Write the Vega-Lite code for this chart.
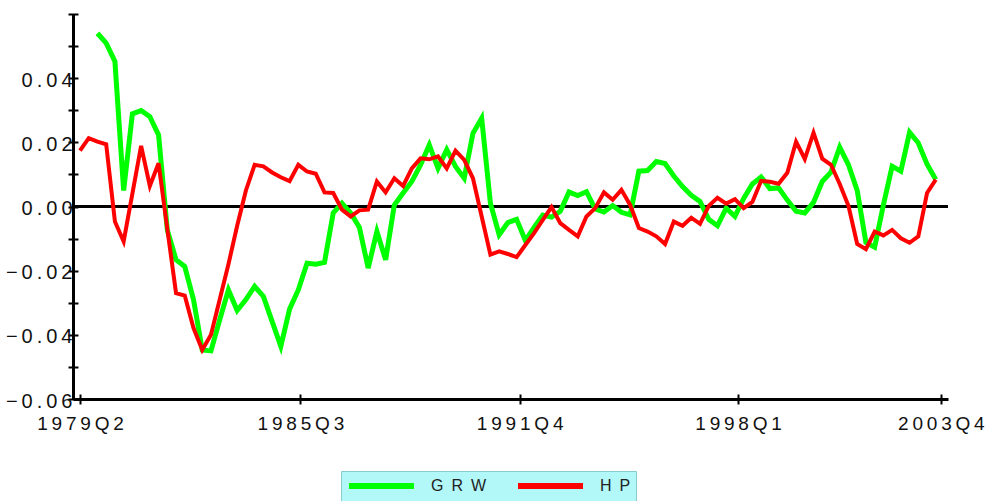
{
  "$schema": "https://vega.github.io/schema/vega-lite/v6.json",
  "autosize": {"type": "none"},
  "padding": {"left": 73, "top": 14, "right": 51, "bottom": 102},
  "width": 875,
  "height": 385,
  "background": "white",
  "config": {"view": {"stroke": null}, "font": "Liberation Sans"},
  "data": {"values": [
    {"q":0,"HP":0.0174},{"q":1,"HP":0.0213},{"q":2,"GRW":0.054,"HP":0.0202},{"q":3,"GRW":0.0509,"HP":0.0194},
    {"q":4,"GRW":0.0452,"HP":-0.0047},{"q":5,"GRW":0.005,"HP":-0.0109},{"q":6,"GRW":0.0289,"HP":0.004},{"q":7,"GRW":0.0299,"HP":0.0189},
    {"q":8,"GRW":0.028,"HP":0.0064},{"q":9,"GRW":0.0223,"HP":0.0135},{"q":10,"GRW":-0.0073,"HP":-0.007},{"q":11,"GRW":-0.0166,"HP":-0.027},
    {"q":12,"GRW":-0.0187,"HP":-0.0278},{"q":13,"GRW":-0.029,"HP":-0.0379},{"q":14,"GRW":-0.0447,"HP":-0.0447},{"q":15,"GRW":-0.045,"HP":-0.04},
    {"q":16,"GRW":-0.0353,"HP":-0.029},{"q":17,"GRW":-0.026,"HP":-0.018},{"q":18,"GRW":-0.0324,"HP":-0.006},{"q":19,"GRW":-0.029,"HP":0.005},
    {"q":20,"GRW":-0.0249,"HP":0.013},{"q":21,"GRW":-0.028,"HP":0.0125},{"q":22,"GRW":-0.0358,"HP":0.0106},{"q":23,"GRW":-0.0436,"HP":0.0091},
    {"q":24,"GRW":-0.032,"HP":0.0079},{"q":25,"GRW":-0.026,"HP":0.013},{"q":26,"GRW":-0.0177,"HP":0.0109},{"q":27,"GRW":-0.018,"HP":0.0102},
    {"q":28,"GRW":-0.0174,"HP":0.0044},{"q":29,"GRW":-0.002,"HP":0.0042},{"q":30,"GRW":0.001,"HP":-0.001},{"q":31,"GRW":-0.002,"HP":-0.0031},
    {"q":32,"GRW":-0.0065,"HP":-0.0012},{"q":33,"GRW":-0.0192,"HP":-0.001},{"q":34,"GRW":-0.0078,"HP":0.0078},{"q":35,"GRW":-0.0166,"HP":0.0044},
    {"q":36,"GRW":0.0005,"HP":0.0088},{"q":37,"GRW":0.0042,"HP":0.0064},{"q":38,"GRW":0.0078,"HP":0.0119},{"q":39,"GRW":0.013,"HP":0.015},
    {"q":40,"GRW":0.0192,"HP":0.0147},{"q":41,"GRW":0.0119,"HP":0.0156},{"q":42,"GRW":0.0177,"HP":0.0119},{"q":43,"GRW":0.0125,"HP":0.0174},
    {"q":44,"GRW":0.0088,"HP":0.0145},{"q":45,"GRW":0.0228,"HP":0.0088},{"q":46,"GRW":0.0275,"HP":-0.0031},{"q":47,"GRW":0.001,"HP":-0.015},
    {"q":48,"GRW":-0.0088,"HP":-0.014},{"q":49,"GRW":-0.005,"HP":-0.0148},{"q":50,"GRW":-0.004,"HP":-0.0158},{"q":51,"GRW":-0.0106,"HP":-0.012},
    {"q":52,"GRW":-0.0065,"HP":-0.0083},{"q":53,"GRW":-0.0027,"HP":-0.0042},{"q":54,"GRW":-0.0033,"HP":-0.0002},{"q":55,"GRW":-0.0015,"HP":-0.0052},
    {"q":56,"GRW":0.0045,"HP":-0.0073},{"q":57,"GRW":0.0034,"HP":-0.0093},{"q":58,"GRW":0.0046,"HP":-0.0031},{"q":59,"GRW":-0.0008,"HP":-0.0005},
    {"q":60,"GRW":-0.0017,"HP":0.0044},{"q":61,"GRW":0.0003,"HP":0.0021},{"q":62,"GRW":-0.0018,"HP":0.0052},{"q":63,"GRW":-0.0026,"HP":0.0005},
    {"q":64,"GRW":0.011,"HP":-0.0067},{"q":65,"GRW":0.0112,"HP":-0.0078},{"q":66,"GRW":0.014,"HP":-0.0093},{"q":67,"GRW":0.0134,"HP":-0.0117},
    {"q":68,"GRW":0.0095,"HP":-0.0047},{"q":69,"GRW":0.0062,"HP":-0.006},{"q":70,"GRW":0.0035,"HP":-0.0035},{"q":71,"GRW":0.0016,"HP":-0.0054},
    {"q":72,"GRW":-0.004,"HP":0.0002},{"q":73,"GRW":-0.006,"HP":0.0027},{"q":74,"GRW":-0.0005,"HP":0.0009},{"q":75,"GRW":-0.0031,"HP":0.0023},
    {"q":76,"GRW":0.0025,"HP":-0.0005},{"q":77,"GRW":0.007,"HP":0.0014},{"q":78,"GRW":0.0092,"HP":0.008},{"q":79,"GRW":0.0056,"HP":0.0077},
    {"q":80,"GRW":0.0058,"HP":0.0071},{"q":81,"GRW":0.002,"HP":0.0105},{"q":82,"GRW":-0.0015,"HP":0.0202},{"q":83,"GRW":-0.002,"HP":0.0148},
    {"q":84,"GRW":0.0013,"HP":0.023},{"q":85,"GRW":0.0078,"HP":0.0149},{"q":86,"GRW":0.0107,"HP":0.013},{"q":87,"GRW":0.0185,"HP":0.007},
    {"q":88,"GRW":0.013,"HP":0.0002},{"q":89,"GRW":0.005,"HP":-0.0117},{"q":90,"GRW":-0.0112,"HP":-0.0133},{"q":91,"GRW":-0.0127,"HP":-0.0078},
    {"q":92,"GRW":0.0005,"HP":-0.009},{"q":93,"GRW":0.0125,"HP":-0.0073},{"q":94,"GRW":0.011,"HP":-0.0099},{"q":95,"GRW":0.0231,"HP":-0.0113},
    {"q":96,"GRW":0.0198,"HP":-0.0093},{"q":97,"GRW":0.0132,"HP":0.0042},{"q":98,"GRW":0.0084,"HP":0.0084}
  ]},
  "resolve": {"axis": {"x": "independent", "y": "independent"}},
  "layer": [
    {
      "mark": {"type": "rule", "color": "black", "strokeWidth": 3},
      "encoding": {
        "y": {"datum": 0, "type": "quantitative",
          "scale": {"domain": [-0.06, 0.06], "nice": false, "zero": false},
          "axis": {"orient": "left", "offset": -5, "domain": false, "labels": false, "grid": false, "title": null,
            "values": [-0.06,-0.05,-0.04,-0.03,-0.02,-0.01,0,0.01,0.02,0.03,0.04,0.05,0.06],
            "ticks": true, "tickSize": 10, "tickWidth": 2, "tickColor": "black"}},
        "x": {"datum": -0.8, "type": "quantitative",
          "scale": {"domain": [-0.8, 99.4], "nice": false, "zero": false},
          "axis": {"orient": "bottom", "offset": -5, "domain": false, "labels": false, "grid": false, "title": null,
            "values": [0, 25.24, 50.35, 75.36, 98.58],
            "ticks": true, "tickSize": 10, "tickWidth": 2, "tickColor": "black"}},
        "x2": {"datum": 99.4}
      }
    },
    {
      "mark": {"type": "line", "strokeWidth": 5},
      "encoding": {
        "x": {"field": "q", "type": "quantitative",
          "scale": {"domain": [-0.8, 99.4], "nice": false, "zero": false},
          "axis": {"orient": "bottom", "title": null, "grid": false, "ticks": false,
            "domain": true, "domainColor": "black", "domainWidth": 3,
            "values": [0, 25.24, 50.35, 75.36, 98.58],
            "labelFont": "Liberation Sans", "labelFontSize": 19, "labelColor": "#111",
            "labelPadding": 15, "labelFlush": false, "labelOverlap": false,
            "labelExpr": "datum.value < 10 ? '1\u20099\u20097\u20099\u2009Q\u20092' : datum.value < 40 ? '1\u20099\u20098\u20095\u2009Q\u20093' : datum.value < 60 ? '1\u20099\u20099\u20091\u2009Q\u20094' : datum.value < 90 ? '1\u20099\u20099\u20098\u2009Q\u20091' : '2\u20090\u20090\u20093\u2009Q\u20094'"}},
        "y": {"field": "GRW", "type": "quantitative",
          "scale": {"domain": [-0.06, 0.06], "nice": false, "zero": false},
          "axis": {"orient": "left", "title": null, "grid": false, "ticks": false,
            "domain": true, "domainColor": "black", "domainWidth": 3,
            "values": [-0.06,-0.04,-0.02,0,0.02,0.04],
            "labelFont": "Liberation Sans", "labelFontSize": 20, "labelColor": "#111",
            "labelPadding": 1, "labelOffset": 2, "labelFlush": false, "labelOverlap": false,
            "labelExpr": "replace(format(datum.value, '.2f'), regexp('(.)(?=.)', 'g'), '$1\u2009')"}},
        "color": {"datum": "GRW", "type": "nominal",
          "scale": {"domain": ["GRW", "HP"], "range": ["#00ff00", "#ff0000"]},
          "legend": {"orient": "none", "legendX": 268, "legendY": 457, "direction": "horizontal",
            "title": null, "fillColor": "#b3f8f8", "strokeColor": "#88cccc", "padding": 5,
            "clipHeight": 20,
            "symbolType": "stroke", "symbolSize": 4225, "symbolStrokeWidth": 6,
            "labelFont": "Liberation Sans", "labelFontSize": 16, "labelColor": "#222",
            "labelOffset": 14, "columnPadding": 28,
            "labelExpr": "datum.label == 'GRW' ? 'G\u2002R\u2002W' : 'H\u2002P'"}}
      }
    },
    {
      "mark": {"type": "line", "strokeWidth": 4},
      "encoding": {
        "x": {"field": "q", "type": "quantitative", "axis": null},
        "y": {"field": "HP", "type": "quantitative", "axis": null},
        "color": {"datum": "HP", "type": "nominal"}
      }
    }
  ]
}
